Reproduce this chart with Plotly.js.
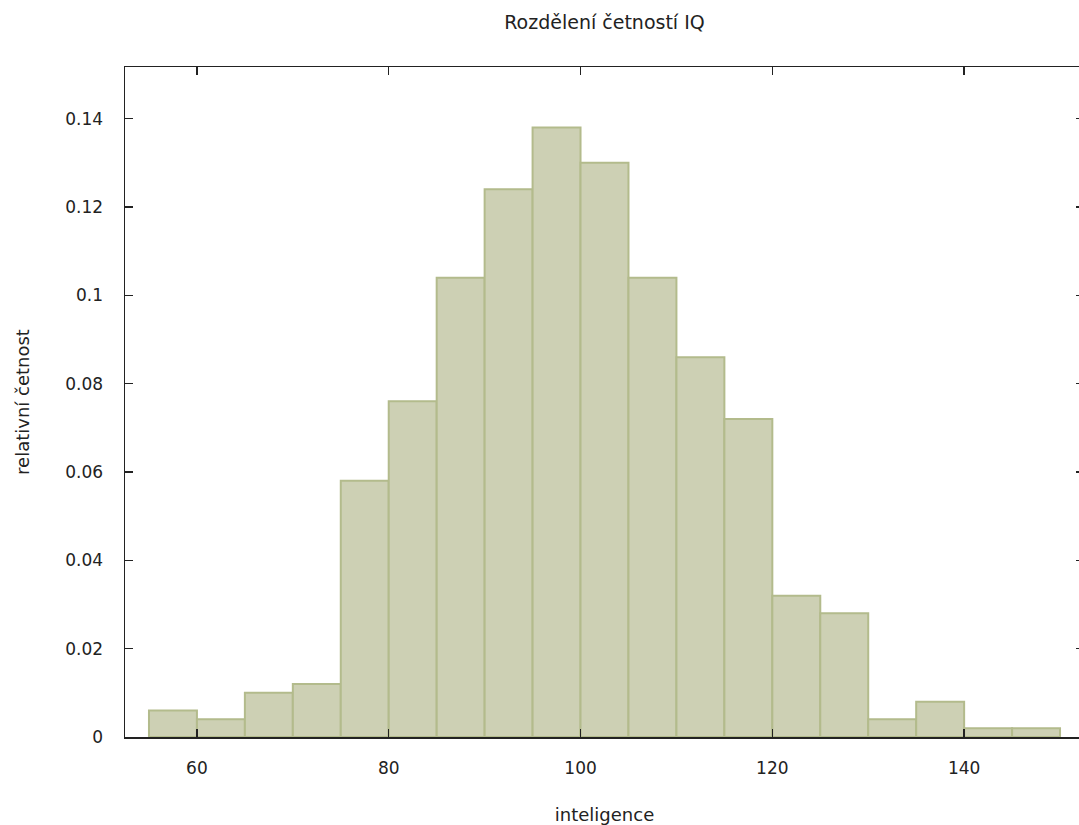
<!DOCTYPE html>
<html>
<head>
<meta charset="utf-8">
<script src="https://cdn.plot.ly/plotly-3.0.1.min.js"></script>
<style>
html,body{margin:0;padding:0;overflow:hidden;background:#fff;}
#chart{width:1084px;height:825px;}
</style>
</head>
<body>
<div id="chart"></div>
<script>
// bin lower edges (IQ) and relative frequencies
var binStarts = [55, 60, 65, 70, 75, 80, 85, 90, 95, 100, 105, 110, 115, 120, 125, 130, 135, 140, 145];
var relFreq = [0.006, 0.004, 0.010, 0.012, 0.058, 0.076, 0.104, 0.124, 0.138, 0.130, 0.104, 0.086, 0.072, 0.032, 0.028, 0.004, 0.008, 0.002, 0.002];
var binWidth = 5;
var xTicks = [60, 80, 100, 120, 140];
var yTicks = [0, 0.02, 0.04, 0.06, 0.08, 0.1, 0.12, 0.14];
var yTickText = ['0', '0.02', '0.04', '0.06', '0.08', '0.1', '0.12', '0.14'];

var font = 'DejaVu Sans, Verdana, sans-serif';
var fsize = 17;
var fcolor = '#222';

var trace = {
  type: 'bar',
  x: binStarts,
  y: relFreq,
  width: binStarts.map(function(){return binWidth;}),
  offset: 0,
  marker: {color: '#cdd0b4', line: {color: '#b3bb8c', width: 2}},
  hoverinfo: 'x+y'
};

var layout = {
  width: 1084,
  height: 825,
  margin: {l: 125, r: 0, t: 67, b: 87.5},
  paper_bgcolor: '#fff',
  plot_bgcolor: '#fff',
  showlegend: false,
  bargap: 0,
  title: {text: 'Rozdělení četností IQ', font: {family: font, size: 19, color: fcolor}, x: 0.5, xref: 'paper', y: 1 - 22/825, yanchor: 'middle'},
  xaxis: {
    range: [52.5, 152.5],
    tickvals: xTicks,
    ticktext: xTicks.map(String),
    ticks: 'inside', ticklen: 8, tickwidth: 1.5, tickcolor: '#222',
    showline: true, linecolor: '#222', linewidth: 1.5, mirror: 'ticks',
    showgrid: false, zeroline: false,
    tickfont: {family: font, size: fsize, color: fcolor},
    ticklabelstandoff: 15,
    title: {text: 'inteligence', font: {family: font, size: 18, color: fcolor}, standoff: 31}
  },
  yaxis: {
    range: [0, 0.1517],
    tickvals: yTicks,
    ticktext: yTickText,
    ticks: 'inside', ticklen: 8, tickwidth: 1.5, tickcolor: '#222',
    showline: true, linecolor: '#222', linewidth: 1.5, mirror: 'ticks',
    showgrid: false, zeroline: false,
    tickfont: {family: font, size: fsize, color: fcolor},
    ticklabelstandoff: 17,
    title: {text: 'relativní četnost', font: {family: font, size: 18, color: fcolor}, standoff: 31}
  }
};

Plotly.newPlot('chart', [trace], layout, {displayModeBar: false, staticPlot: true});
</script>
</body>
</html>
